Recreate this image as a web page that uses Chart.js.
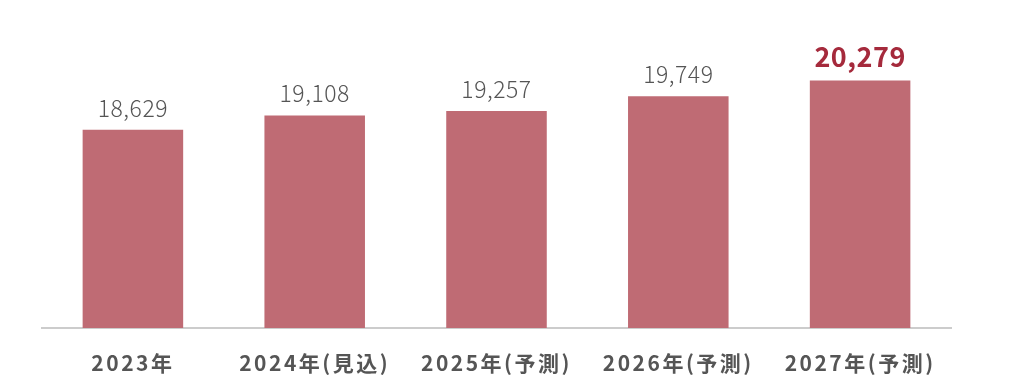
<!DOCTYPE html>
<html>
<head>
<meta charset="utf-8">
<script src="https://cdn.jsdelivr.net/npm/chart.js@4"></script>
<style>
  html, body { margin: 0; padding: 0; background: #fff; }
  #wrap { width: 1024px; height: 391px; }
</style>
</head>
<body>
<div id="wrap"><canvas id="myChart"></canvas></div>
<script>
const categories = ["2023年", "2024年(見込)", "2025年(予測)", "2026年(予測)", "2027年(予測)"];
const values = [18629, 19108, 19257, 19749, 20279];
const highlightIndex = 4;

// wider spacing for the axis labels
const spacing = {
    id: 'spacing',
    beforeDraw(chart) {
        chart.ctx.letterSpacing = '2.5px';
    }
};

// value labels above each bar
const valueLabels = {
    id: 'valueLabels',
    afterDatasetsDraw(chart) {
        const ctx = chart.ctx;
        const meta = chart.getDatasetMeta(0);
        ctx.save();
        ctx.textAlign = 'center';
        ctx.textBaseline = 'alphabetic';
        ctx.letterSpacing = '0.5px';
        meta.data.forEach((bar, i) => {
            const txt = values[i].toLocaleString('en-US');
            if (i === highlightIndex) {
                ctx.font = 'bold 27px "Noto Sans CJK JP"';
                ctx.fillStyle = '#a52a3c';
            } else {
                ctx.font = '300 23px "Noto Sans CJK JP"';
                ctx.fillStyle = '#555555';
            }
            ctx.fillText(txt, bar.x, bar.y - 13);
        });
        ctx.restore();
    }
};

const ctx = document.getElementById('myChart').getContext('2d');
const myChart = new Chart(ctx, {
    type: 'bar',
    data: {
        labels: categories,
        datasets: [{
            data: values,
            backgroundColor: '#bf6b74',
            borderWidth: 0,
            barPercentage: 0.553,
            categoryPercentage: 1
        }]
    },
    options: {
        responsive: true,
        maintainAspectRatio: false,
        animation: false,
        layout: { padding: { left: 42, right: 73, top: 29, bottom: 0 } },
        plugins: {
            legend: { display: false },
            tooltip: { enabled: false }
        },
        scales: {
            y: {
                display: false,
                min: 12000,
                max: 22000
            },
            x: {
                afterFit(scale) { scale.height = 63; },
                grid: { display: false, drawTicks: false },
                border: { display: true, color: '#cccccc', width: 2 },
                ticks: {
                    color: '#555555',
                    padding: 22,
                    font: { family: '"Noto Sans CJK JP"', size: 21, weight: 'bold' }
                }
            }
        }
    },
    plugins: [spacing, valueLabels]
});
</script>
</body>
</html>
